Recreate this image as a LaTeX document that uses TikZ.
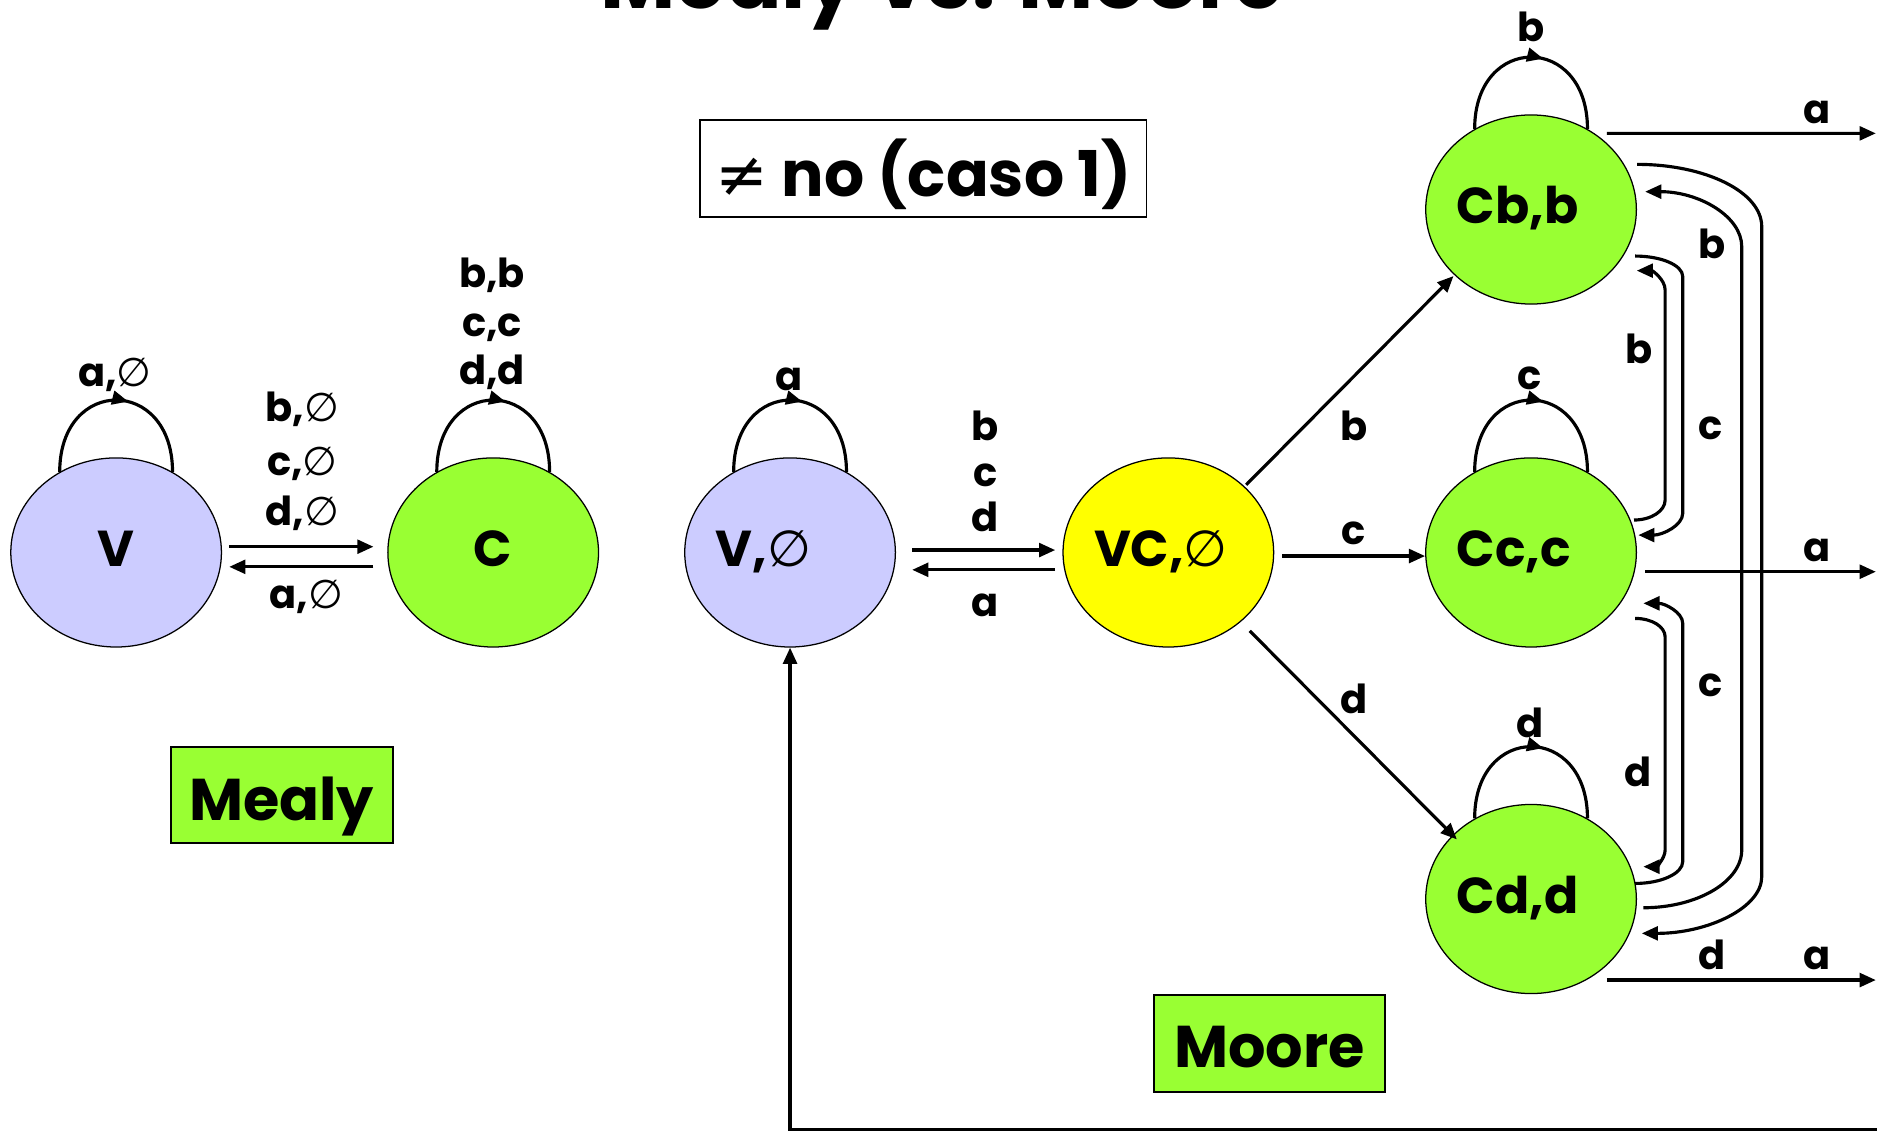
\documentclass[tikz,border=0pt]{standalone}
\usepackage{fontspec}
\setmainfont{Poppins}
\newfontfamily\dvsfont{DejaVu Sans}
\usetikzlibrary{shapes.geometric,arrows.meta,calc,decorations.markings}

\definecolor{lav}{HTML}{CCCCFF}
\definecolor{lime}{HTML}{99FF33}
\definecolor{yel}{HTML}{FFFF00}

\newcommand{\nulo}{{\dvsfont\mdseries ∅}}
\newcommand{\lblfont}{\fontsize{19}{22}\selectfont\bfseries}
\newcommand{\nodefont}{\fontsize{24}{28}\selectfont\bfseries}
\newcommand{\tagfont}{\fontsize{30}{34}\selectfont\bfseries}
\newcommand{\boxfont}{\fontsize{28}{32}\selectfont\bfseries}
\newcommand{\titlefont}{\fontsize{39}{44}\selectfont\bfseries}
\newcommand{\leftbox}[1]{\makebox[2.48cm][l]{#1}}

\tikzset{
  st/.style={ellipse, draw, line width=0.6pt, minimum width=3.52cm,
    minimum height=3.16cm, inner sep=0pt, font=\nodefont,
    text height=0.48cm, text depth=0pt},
  tip/.style={-{Triangle[length=0.27cm,width=0.23cm]}},
  conn/.style={line width=1.5pt, tip},
  loopmk/.style={line width=1.5pt,
    decoration={markings, mark=at position 0.56 with {\arrow{Triangle[length=0.27cm,width=0.23cm]}}},
    postaction={decorate}},
  lbl/.style={anchor=base, font=\lblfont, inner sep=0pt},
  tag/.style={draw, line width=0.8pt, font=\tagfont, inner sep=0pt, text depth=0pt},
}

\begin{document}
\begin{tikzpicture}[x=0.02cm, y=-0.02cm]
\useasboundingbox (0,0) rectangle (1568,944);
\clip (0,0) rectangle (1568,944);

% heading, cut by the top edge
\node[anchor=base, font=\titlefont, inner sep=0pt] (title) at (787,7) {Mealy vs. Moore};

% ---------- Mealy machine ----------
\node[st, fill=lav]  (V) at (97,461.5)  {V};
\node[st, fill=lime] (C) at (412,461.5) {C};

\draw[loopmk] (V.125) .. controls +(0,-80) and +(0,-80) .. (V.55);
\draw[loopmk] (C.125) .. controls +(0,-80) and +(0,-80) .. (C.55);

\draw[conn] ($(V)+(94.5,-4.8)$) -- ($(C)+(-100,-4.8)$);
\draw[conn] ($(C)+(-100,12)$) -- ($(V)+(94.5,12)$);

\node[lbl] (lVa) at (96,323) {a,\nulo};
\node[lbl] (lCb) at (411,240) {b,b};
\node[lbl] (lCc) at (411,281) {c,c};
\node[lbl] (lCd) at (411,321.6) {d,d};
\node[lbl] (lVCb) at (252.5,352) {b,\nulo};
\node[lbl] (lVCc) at (252.5,397) {c,\nulo};
\node[lbl] (lVCd) at (252.5,438.6) {d,\nulo};
\node[lbl] (lCVa) at (256,508) {a,\nulo};

\node[tag, fill=lime, font=\boxfont, minimum width=3.71cm, minimum height=1.61cm, text height=0.836cm]
  (mealy) at (235.3,664.1) {Mealy};

% ---------- Moore machine ----------
\node[tag, fill=white, minimum width=7.46cm, minimum height=1.62cm, text height=0.94cm]
  (caso) at (771.4,140.5) {{\dvsfont\mdseries ≠} no (caso 1)};

\node[st, fill=lav]  (Vm) at (660,461.5)  {\leftbox{V,\nulo}};
\node[st, fill=yel]  (VC) at (976,461.5)  {\leftbox{VC,\nulo}};
\node[st, fill=lime] (Cb) at (1279,175)   {\leftbox{Cb,b}};
\node[st, fill=lime] (Cc) at (1279,461.5) {\leftbox{Cc,c}};
\node[st, fill=lime] (Cd) at (1279,751)   {\leftbox{Cd,d}};

\draw[loopmk] (Vm.125) .. controls +(0,-80) and +(0,-80) .. (Vm.55);
\draw[loopmk] (Cb.125) .. controls +(0,-80) and +(0,-80) .. (Cb.55);
\draw[loopmk] (Cc.125) .. controls +(0,-80) and +(0,-80) .. (Cc.55);
\draw[loopmk] (Cd.125) .. controls +(0,-80) and +(0,-80) .. (Cd.55);

\draw[conn] ($(Vm)+(102,-2)$) -- ($(VC)+(-94.5,-2)$);
\draw[conn] ($(VC)+(-94.5,14.5)$) -- ($(Vm)+(102,14.5)$);

\draw[conn] ($(VC)+(65,-56.5)$) -- ($(Cb)+(-64.8,55.6)$);
\draw[conn] ($(VC)+(95,3)$) -- ($(Cc)+(-88.5,3)$);
\draw[conn] ($(VC)+(68,65.5)$) -- ($(Cd)+(-62,-49.8)$);

% exits on input a
\coordinate (outb) at (1567,111.4);
\coordinate (outc) at (1567,477.6);
\coordinate (outd) at (1567,818.7);
\coordinate (back) at (1570,943.5);
\draw[conn] ($(Cb)+(63.3,-63.6)$) -- (outb);
\draw[conn] ($(Cc)+(95.3,16.1)$) -- (outc);
\draw[conn] ($(Cd)+(63.3,67.7)$) -- (outd);
\draw[conn] (back) -| (Vm.south);

% links between the C states
\draw[conn] ($(Cb)+(88.6,-37.7)$) .. controls +(57,0) and +(0,-29) .. ++(104.1,52)
  -- ++(0,543.1) .. controls +(0,26) and +(55,0) .. ($(Cd)+(92.5,28.7)$);
\draw[conn] ($(Cd)+(93.8,7.3)$) .. controls +(45,0) and +(0,26.5) .. ++(82.2,-48.3)
  -- ++(0,-504) .. controls +(0,-25.4) and +(44.7,0) .. ($(Cb)+(95.3,-14.9)$);
\draw[conn] ($(Cb)+(86.9,38.9)$) .. controls +(22,0) and +(0,-9.4) .. ++(39.8,17.1)
  -- ++(0,197.8) .. controls +(0,10) and +(20.4,0) .. ($(Cc)+(89.6,-14.5)$);
\draw[conn] ($(Cc)+(86,-27.1)$) .. controls +(14.3,0) and +(0,9.2) .. ++(26,-16.7)
  -- ++(0,-175.4) .. controls +(0,-8.9) and +(13,0) .. ($(Cb)+(88.3,51.1)$);
\draw[conn] ($(Cd)+(86.9,-13)$) .. controls +(22,0) and +(0,9.8) .. ++(39.8,-18.2)
  -- ++(0,-199.1) .. controls +(0,-9.1) and +(18,0) .. ($(Cc)+(93.8,42.5)$);
\draw[conn] ($(Cc)+(86.9,55.1)$) .. controls +(14,0) and +(0,-8.5) .. ++(25.1,15.4)
  -- ++(0,178) .. controls +(0,7.7) and +(10,0) .. ($(Cd)+(93.8,-27)$);

% labels
\node[lbl] (mVa) at (659,326) {a};
\node[lbl] (mb1) at (823,367.6) {b};
\node[lbl] (mc1) at (823,406.6) {c};
\node[lbl] (md1) at (823,444) {d};
\node[lbl] (ma1) at (823,515) {a};
\node[lbl] (mCbb) at (1279,35) {b};
\node[lbl] (mCcc) at (1278,325) {c};
\node[lbl] (mCdd) at (1278,616) {d};
\node[lbl] (mb2) at (1131,368) {b};
\node[lbl] (mc2) at (1131,455) {c};
\node[lbl] (md2) at (1131,596) {d};
\node[lbl] (ma2) at (1517.7,103) {a};
\node[lbl] (ma3) at (1517.7,469) {a};
\node[lbl] (ma4) at (1517.7,810) {a};
\node[lbl] (md3) at (1430,810) {d};
\node[lbl] (mb3) at (1430,215.6) {b};
\node[lbl] (mb4) at (1369,303.5) {b};
\node[lbl] (mc3) at (1428.6,367) {c};
\node[lbl] (mc4) at (1428.6,582) {c};
\node[lbl] (md4) at (1368.6,657) {d};

\node[tag, fill=lime, font=\boxfont, minimum width=3.86cm, minimum height=1.62cm, text height=0.82cm]
  (moore) at (1060.5,871.5) {Moore};
\end{tikzpicture}
\end{document}
